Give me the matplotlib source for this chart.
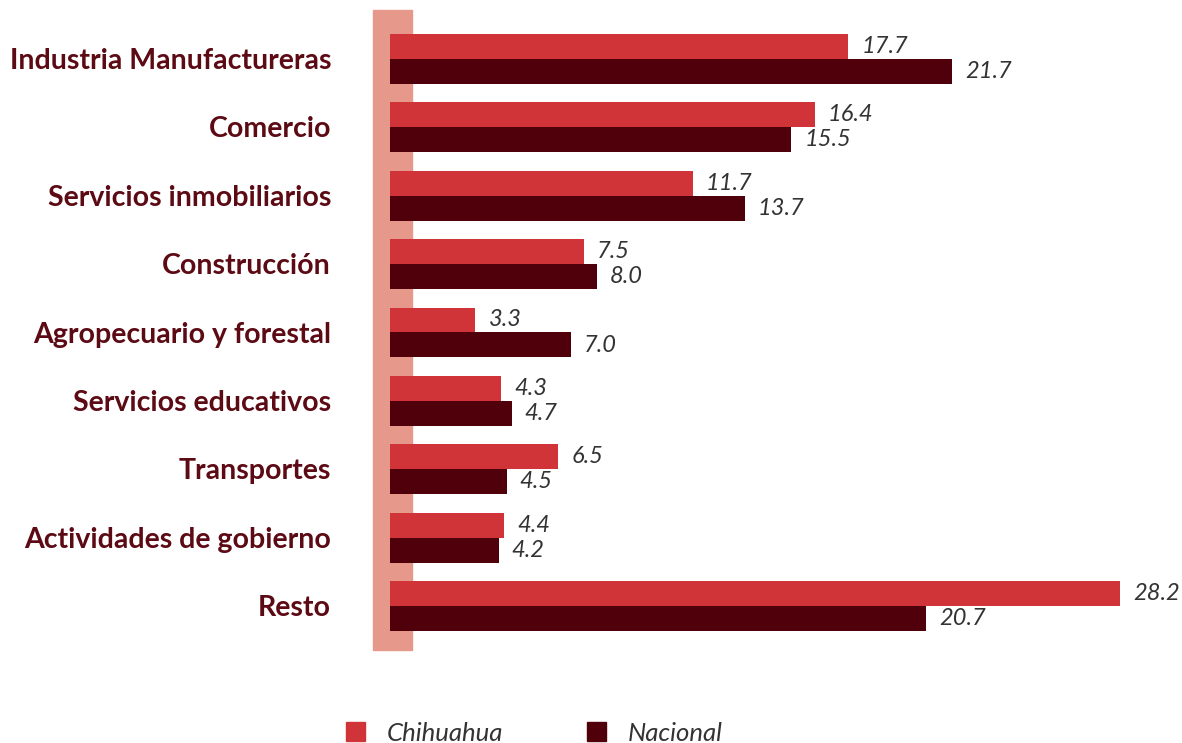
import numpy as np
import matplotlib.pyplot as plt
from matplotlib.patches import Rectangle

# Datos
categorias = ['Industria Manufactureras', 'Comercio', 'Servicios inmobiliarios',
              'Construcción', 'Agropecuario y forestal', 'Servicios educativos',
              'Transportes', 'Actividades de gobierno', 'Resto']
chihuahua = [17.7, 16.4, 11.7, 7.5, 3.3, 4.3, 6.5, 4.4, 28.2]
nacional = [21.7, 15.5, 13.7, 8.0, 7.0, 4.7, 4.5, 4.2, 20.7]
series = ['Chihuahua', 'Nacional']

col_chih = '#D13438'
col_nac = '#4F000B'
col_banda = '#E6998A'
col_texto = '#5C0A14'

fig = plt.figure(figsize=(11.82, 7.43), dpi=100)
ax = fig.add_axes([0, 0, 1, 1])

px = 25.9  # pixeles por unidad
ax.set_xlim(-390 / px, (1182 - 390) / px)
paso = 68.375
ax.set_ylim((743 - 59) / paso, -59 / paso)

y = np.arange(len(categorias))
h = 25 / paso
ax.barh(y - h / 2, chihuahua, height=h, color=col_chih, zorder=3)
ax.barh(y + h / 2, nacional, height=h, color=col_nac, zorder=3)

# banda vertical
ax.add_patch(Rectangle((-17 / px, -49 / paso), 39 / px, 640 / paso,
                       color=col_banda, zorder=1))

fuente = 'Lato'
for i in range(len(categorias)):
    ax.text(-59 / px, y[i] + 0.03, categorias[i], ha='right', va='center',
            fontsize=20.5, fontweight='bold', color=col_texto, family=fuente)
    ax.text(chihuahua[i] + 0.5, y[i] - h / 2, '{:.1f}'.format(chihuahua[i]),
            ha='left', va='center', fontsize=17, style='italic',
            color='#333333', family=fuente)
    ax.text(nacional[i] + 0.5, y[i] + h / 2, '{:.1f}'.format(nacional[i]),
            ha='left', va='center', fontsize=17, style='italic',
            color='#333333', family=fuente)

ax.axis('off')

handles = [Rectangle((0, 0), 1, 1, color=col_chih),
           Rectangle((0, 0), 1, 1, color=col_nac)]
leg = fig.legend(handles, series, loc='center', bbox_to_anchor=(0.452, 0.013),
                 ncol=2, frameon=False, handlelength=0.75, handleheight=0.75,
                 handletextpad=0.85, columnspacing=3.25,
                 prop={'family': fuente, 'style': 'italic', 'size': 18.5})
for t in leg.get_texts():
    t.set_color('#333333')

fig.savefig('out.png', dpi=100)
